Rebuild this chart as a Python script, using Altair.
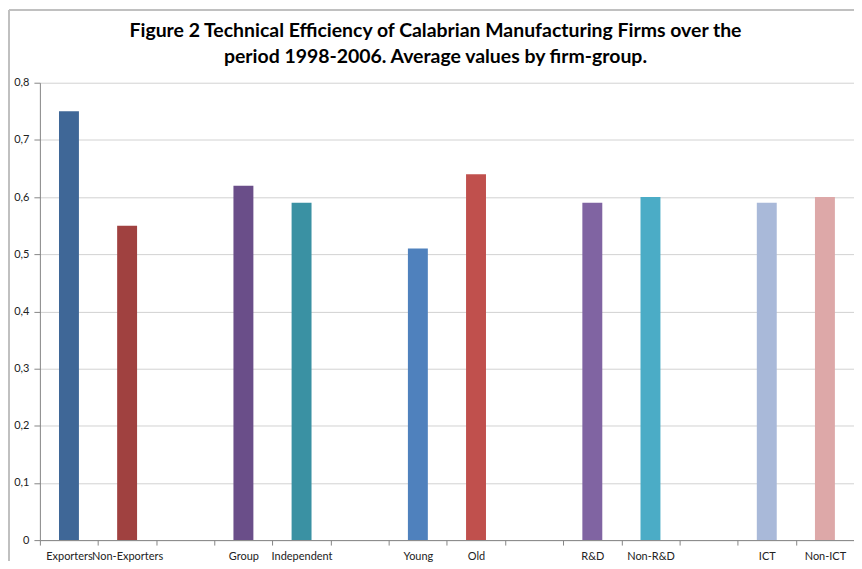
import altair as alt
import pandas as pd

categories = ["Exporters", "Non-Exporters", "Group", "Independent", "Young", "Old",
              "R&D", "Non-R&D", "ICT", "Non-ICT"]
values = [0.75, 0.55, 0.62, 0.59, 0.51, 0.64, 0.59, 0.60, 0.59, 0.60]
colors = ["#3F6797", "#A04140", "#6A4E89", "#3A91A3", "#4F81BD", "#C0504D",
          "#8064A2", "#4BACC6", "#A9B9D9", "#DDA8A8"]
axis_order = ["Exporters", "Non-Exporters", " ", "Group", "Independent", "  ",
              "Young", "Old", "   ", "R&D", "Non-R&D", "    ", "ICT", "Non-ICT"]
y_ticks = [0, 0.1, 0.2, 0.3, 0.4, 0.5, 0.6, 0.7, 0.8]
title_line1 = "Figure  2 Technical Efficiency of Calabrian Manufacturing Firms over the"
title_line2 = "period 1998-2006. Average values by firm-group."

df = pd.DataFrame({"category": categories, "value": values})

bars = alt.Chart(df).mark_bar(width=20).encode(
    x=alt.X("category:N",
            scale=alt.Scale(domain=axis_order, paddingInner=0, paddingOuter=0),
            sort=axis_order,
            axis=alt.Axis(title=None, labelAngle=0, tickBand="extent",
                          domainColor="#868686", tickColor="#868686", tickSize=5,
                          labelFontSize=11, labelFont="Lato", labelColor="#222222",
                          labelPadding=5, grid=False, labelOverlap=False)),
    y=alt.Y("value:Q",
            scale=alt.Scale(domain=[0, 0.8], nice=False),
            axis=alt.Axis(title=None, values=y_ticks,
                          labelExpr="datum.value == 0 ? '0' : replace(format(datum.value, '.1f'), '.', ',')",
                          grid=True, gridColor="#d2d2d2", gridWidth=1,
                          domainColor="#868686", tickColor="#868686", tickSize=6,
                          labelFontSize=11, labelFont="Lato", labelColor="#222222",
                          labelPadding=5)),
    color=alt.Color("category:N", scale=alt.Scale(domain=categories, range=colors), legend=None),
)

one = alt.Data(values=[{"k": 1}])
frame_top = alt.Chart(one).mark_rule(color="#c0c0c0", strokeWidth=2).encode(
    x=alt.value(-31), x2=alt.value(830), y=alt.value(-73))
frame_left = alt.Chart(one).mark_rule(color="#c0c0c0", strokeWidth=2).encode(
    x=alt.value(-31), y=alt.value(-73), y2=alt.value(480))

title1 = alt.Chart(one).mark_text(text=title_line1, font="Lato", fontSize=19.5, fontWeight="bold",
                                  color="#000000", align="center", baseline="middle").encode(
    x=alt.value(397), y=alt.value(-52))
title2 = alt.Chart(one).mark_text(text=title_line2, font="Lato", fontSize=19.5, fontWeight="bold",
                                  color="#000000", align="center", baseline="middle").encode(
    x=alt.value(397), y=alt.value(-26))

chart = alt.layer(frame_top, frame_left, bars, title1, title2).properties(
    width=817, height=459,
    padding={"left": 32, "top": 74, "right": 0, "bottom": 22},
    autosize=alt.AutoSizeParams(type="none"),
).configure_view(stroke=None)

chart.save("out.html", embed_options={"renderer": "svg", "actions": False})
